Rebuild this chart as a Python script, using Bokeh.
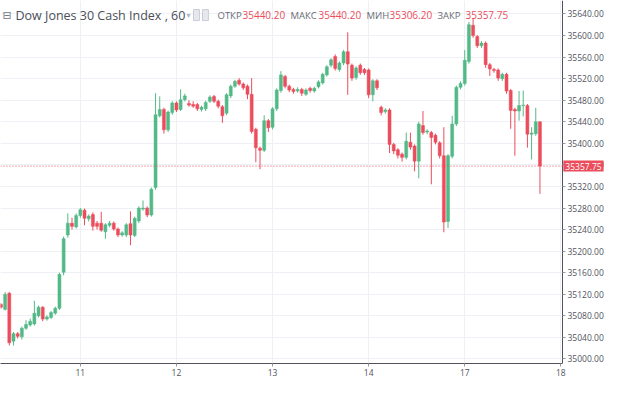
from bokeh.plotting import figure
from bokeh.models import (Range1d, FixedTicker, Span, Label, PrintfTickFormatter,
                          ColumnDataSource, BoxAnnotation)
from bokeh.embed import file_html
from bokeh.resources import INLINE

# hourly slots relative to first bar of the 11th
slot = list(range(-19, 111))
open_ = [35101, 35092, 35122, 35033, 35047, 35041, 35057, 35063, 35065, 35080,
         35096, 35074, 35077, 35085, 35094, 35161, 35230, 35252, 35245, 35266,
         35276, 35260, 35268, 35252, 35252, 35236, 35248, 35252, 35241, 35230,
         35230, 35251, 35229, 35256, 35278, 35280, 35267, 35318, 35451, 35463,
         35425, 35457, 35475, 35463, 35481, 35474, 35472, 35472, 35463, 35464,
         35478, 35487, 35478, 35468, 35456, 35488, 35506, 35517, 35510, 35506,
         35491, 35426, 35391, 35387, 35442, 35430, 35464, 35498, 35524, 35506,
         35500, 35497, 35500, 35491, 35502, 35497, 35505, 35512, 35527, 35545,
         35561, 35537, 35549, 35570, 35545, 35522, 35545, 35537, 35536, 35490,
         35516, 35467, 35459, 35462, 35398, 35388, 35380, 35374, 35402, 35395,
         35367, 35433, 35421, 35420, 35415, 35401, 35377, 35255, 35376, 35436,
         35504, 35511, 35552, 35619, 35598, 35581, 35586, 35546, 35537, 35536,
         35520, 35528, 35498, 35463, 35460, 35470, 35470, 35417, 35418, 35440.20]
high = [35104, 35124, 35124, 35050, 35050, 35060, 35072, 35075, 35108, 35099,
        35098, 35081, 35089, 35097, 35160, 35227, 35270, 35262, 35270, 35280,
        35279, 35268, 35272, 35256, 35273, 35252, 35256, 35255, 35244, 35237,
        35252, 35274, 35264, 35283, 35294, 35283, 35318, 35493, 35487, 35466,
        35461, 35478, 35478, 35500, 35492, 35480, 35478, 35475, 35470, 35479,
        35489, 35490, 35481, 35471, 35493, 35509, 35518, 35521, 35513, 35509,
        35521, 35429, 35394, 35452, 35445, 35467, 35502, 35534, 35527, 35509,
        35503, 35504, 35503, 35502, 35505, 35505, 35517, 35531, 35545, 35558,
        35565, 35552, 35573, 35606, 35548, 35543, 35548, 35540, 35539, 35519,
        35519, 35470, 35465, 35465, 35401, 35391, 35383, 35420, 35420, 35398,
        35440, 35460, 35426, 35423, 35418, 35404, 35430, 35380, 35451, 35507,
        35515, 35573, 35625, 35632, 35601, 35590, 35589, 35549, 35540, 35539,
        35531, 35531, 35501, 35466, 35497, 35498, 35473, 35430, 35466, 35440.20]
low = [35093, 35090, 35025, 35025, 35038, 35036, 35054, 35060, 35062, 35077,
       35070, 35071, 35074, 35082, 35091, 35155, 35225, 35240, 35242, 35262,
       35248, 35255, 35238, 35240, 35236, 35223, 35244, 35238, 35226, 35227,
       35226, 35211, 35226, 35252, 35275, 35263, 35264, 35314, 35448, 35418,
       35421, 35453, 35458, 35460, 35478, 35468, 35466, 35460, 35459, 35460,
       35475, 35475, 35465, 35438, 35452, 35484, 35503, 35507, 35499, 35482,
       35418, 35365, 35352, 35384, 35421, 35426, 35460, 35494, 35502, 35495,
       35492, 35494, 35488, 35488, 35494, 35494, 35502, 35509, 35524, 35541,
       35535, 35533, 35545, 35490, 35516, 35518, 35527, 35527, 35484, 35478,
       35499, 35452, 35455, 35382, 35380, 35372, 35366, 35370, 35388, 35348,
       35335, 35416, 35417, 35324, 35398, 35372, 35235, 35243, 35372, 35432,
       35500, 35507, 35548, 35596, 35577, 35577, 35540, 35525, 35531, 35516,
       35516, 35492, 35427, 35377, 35442, 35450, 35392, 35370, 35414, 35306.20]
close = [35096, 35120, 35030, 35047, 35042, 35057, 35064, 35070, 35085, 35096,
         35074, 35078, 35086, 35094, 35157, 35223, 35252, 35246, 35266, 35277,
         35261, 35265, 35246, 35246, 35239, 35249, 35252, 35241, 35230, 35234,
         35249, 35230, 35261, 35280, 35280, 35267, 35315, 35453, 35463, 35425,
         35458, 35475, 35462, 35481, 35488, 35471, 35469, 35464, 35467, 35476,
         35486, 35478, 35469, 35451, 35490, 35506, 35515, 35510, 35503, 35491,
         35422, 35392, 35387, 35442, 35429, 35464, 35499, 35527, 35506, 35499,
         35496, 35500, 35493, 35499, 35498, 35502, 35514, 35528, 35542, 35555,
         35539, 35549, 35570, 35547, 35521, 35540, 35531, 35531, 35490, 35516,
         35503, 35457, 35462, 35398, 35386, 35378, 35374, 35404, 35393, 35367,
         35436, 35420, 35423, 35411, 35402, 35377, 35254, 35377, 35436, 35504,
         35511, 35554, 35620, 35600, 35581, 35586, 35546, 35538, 35535, 35521,
         35528, 35497, 35461, 35460, 35470, 35471, 35417, 35419, 35440, 35357.75]

day_ticks = [0, 23, 46, 69, 92, 115]
day_labels = ["11", "12", "13", "14", "17", "18"]
price_ticks = list(range(35000, 35641, 40))
last_price = 35357.75
header_title = "Dow Jones 30 Cash Index , 60"
ohlc_names = ["ОТКР", "МАКС", "МИН", "ЗАКР"]
ohlc_values = ["35440.20", "35440.20", "35306.20", "35357.75"]

UP = "#53b987"
DOWN = "#eb4d5c"
X_START, X_AXIS, X_END = -19.11, 115.4, 125.45

colors = [UP if c >= o else DOWN for o, c in zip(open_, close)]
bottoms = [min(o, c) for o, c in zip(open_, close)]
tops = [max(o, c) for o, c in zip(open_, close)]
src = ColumnDataSource(dict(x=slot, o=open_, h=high, l=low, c=close,
                            color=colors, bottom=bottoms, top=tops))

p = figure(width=604, height=378, x_range=Range1d(X_START, X_END),
           y_range=Range1d(34991.6, 35665), output_backend="svg",
           toolbar_location=None, y_axis_location="right",
           min_border_left=0, min_border_top=0, min_border_right=0,
           min_border_bottom=15)
p.outline_line_color = None
p.background_fill_color = "white"
p.border_fill_color = "white"

p.xaxis.ticker = FixedTicker(ticks=day_ticks)
p.xaxis.major_label_overrides = {t: l for t, l in zip(day_ticks, day_labels)}
p.xaxis.bounds = (X_START, X_AXIS)
p.yaxis.ticker = FixedTicker(ticks=price_ticks)
p.yaxis.formatter = PrintfTickFormatter(format="%.2f")
p.yaxis.fixed_location = X_AXIS
for ax in (p.xaxis, p.yaxis):
    ax.axis_line_color = "#50535e"
    ax.major_tick_line_color = "#9598a1"
    ax.minor_tick_line_color = None
    ax.major_tick_in = 0
    ax.major_tick_out = 3
    ax.major_label_text_color = "#50535e"
    ax.major_label_text_font = "Open Sans"
    ax.major_label_text_font_size = "8.5px"
    ax.major_label_standoff = 2
p.xgrid.grid_line_color = "#edf0f4"
p.ygrid.grid_line_color = "#edf0f4"

# keep the price-scale strip clean of grid lines
p.add_layout(BoxAnnotation(left=X_AXIS, fill_color="white", fill_alpha=1.0,
                           line_color=None, level="underlay"))

p.segment(x0="x", y0="l", x1="x", y1="h", color="color", line_width=1, source=src)
p.vbar(x="x", width=0.72, bottom="bottom", top="top", fill_color="color",
       line_color="color", line_width=0.5, source=src)

p.add_layout(Span(location=last_price, dimension="width", line_color=DOWN,
                  line_dash="1 2", line_width=1))

p.add_layout(Label(x=X_AXIS + 0.2, y=last_price, text=f"{last_price:.2f}",
                   text_color="white", text_font="Open Sans", text_font_size="8.5px",
                   text_baseline="middle", text_align="left",
                   background_fill_color=DOWN, padding=2))

p.add_layout(Label(x=2, y=35638, x_units="screen", text="⊟", text_color="#787b86",
                   text_font="DejaVu Sans", text_font_size="11px", text_baseline="middle"))
p.add_layout(Label(x=15, y=35638, x_units="screen", text=header_title, text_color="#4a4e59",
                   text_font="Open Sans", text_font_size="12.5px", text_baseline="middle"))
p.add_layout(Label(x=186, y=35638, x_units="screen", text="▾", text_color="#b2b5be",
                   text_font="DejaVu Sans", text_font_size="8px", text_baseline="middle"))
for bx in [193, 202]:
    p.add_layout(Label(x=bx, y=35638, x_units="screen", text=" ", text_color="#d1d4dc",
                       text_font="DejaVu Sans", text_font_size="6px", text_baseline="middle",
                       background_fill_color="#e6e8ee", border_line_color="#c9ccd4",
                       padding=2))

name_x = [217, 290, 366, 437]
val_x = [242, 318, 389, 465]
for nx, vx, n, v in zip(name_x, val_x, ohlc_names, ohlc_values):
    p.add_layout(Label(x=nx, y=35638, x_units="screen", text=n, text_color="#6a6d78",
                       text_font="Open Sans", text_font_size="9.5px", text_baseline="middle"))
    p.add_layout(Label(x=vx, y=35638, x_units="screen", text=v, text_color=DOWN,
                       text_font="Open Sans", text_font_size="10px", text_baseline="middle"))

open("out.html", "w").write(file_html(p, INLINE))
